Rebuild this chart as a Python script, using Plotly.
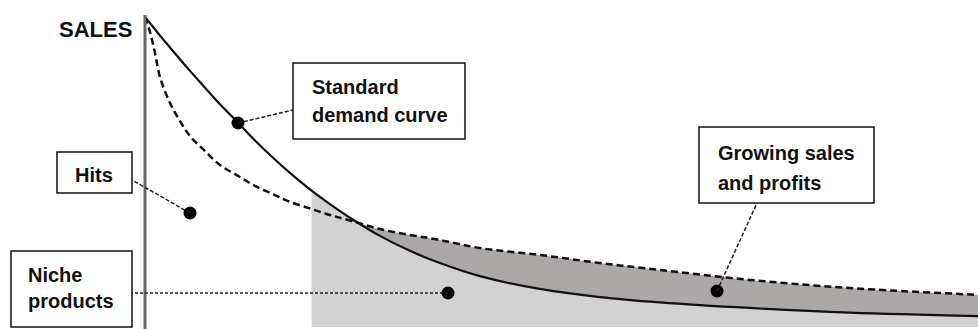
import plotly.graph_objects as go

# ---- data (product rank 0..100, sales 0..100) ----
rank = [0, 0.6, 1.2, 1.8, 3.0, 4.2, 5.4, 7.2, 9.0, 11.2, 13.2, 15.6, 17.4, 20.0,
        22.2, 24.8, 28.2, 31.8, 35.4, 40.2, 47.4, 54.6, 61.8, 72.6, 84.6, 100]
standard_sales = [99.4, 97.4, 95.4, 93.4, 89.6, 85.8, 82.1, 76.7, 71.4, 65.4, 59.8,
                  53.7, 49.4, 43.7, 39.4, 34.7, 29.2, 24.4, 20.5, 16.3, 12.2, 9.6,
                  7.9, 6.1, 4.6, 3.5]
longtail_sales = [99.4, 94.6, 87.8, 80.1, 71.8, 66.0, 61.2, 56.4, 51.9, 48.4, 45.2,
                  42.3, 40.1, 37.8, 35.9, 34.0, 31.4, 29.5, 27.9, 25.3, 23.1, 20.5,
                  18.3, 15.1, 12.5, 10.3]
niche_start_rank = 20.0
crossing_rank = 24.8

# ---- page geometry (pixels) ----
W, H = 978, 329
AX_PX = 145.0       # x pixel of rank 0
PX_PER_RANK = 8.33
BASE_PY = 327.0     # y pixel of sales 0
PX_PER_SALE = 3.12


def px2x(px):
    return (px - AX_PX) / PX_PER_RANK


def py2y(py):
    return (BASE_PY - py) / PX_PER_SALE


x_range = [px2x(0), px2x(W)]
y_range = [py2y(H), py2y(0)]

LIGHT = "#d3d2d3"
DARK = "#aca8a8"
LABEL_FONT = "Liberation Sans, Arial, sans-serif"

fig = go.Figure()

# light grey: niche area under the standard curve
i0 = rank.index(niche_start_rank)
fig.add_trace(go.Scatter(x=rank[i0:], y=standard_sales[i0:], mode="lines",
                         line=dict(width=0, shape="spline", color=LIGHT),
                         fill="tozeroy", fillcolor=LIGHT, hoverinfo="skip"))

# dark grey: between curves after crossing
i1 = rank.index(crossing_rank)
fig.add_trace(go.Scatter(x=rank[i1:], y=standard_sales[i1:], mode="lines",
                         line=dict(width=0, shape="spline", color=DARK),
                         hoverinfo="skip"))
fig.add_trace(go.Scatter(x=rank[i1:], y=longtail_sales[i1:], mode="lines",
                         line=dict(width=0, shape="spline", color=DARK),
                         fill="tonexty", fillcolor=DARK, hoverinfo="skip"))

# curves
fig.add_trace(go.Scatter(x=rank, y=longtail_sales, mode="lines",
                         line=dict(color="#111111", width=2.5, dash="7px,4px", shape="spline"),
                         hoverinfo="skip"))
fig.add_trace(go.Scatter(x=rank, y=standard_sales, mode="lines",
                         line=dict(color="#111111", width=2.2, shape="spline"),
                         hoverinfo="skip"))

# vertical sales axis
fig.add_shape(type="line", x0=0, x1=0, y0=y_range[0], y1=py2y(15),
              line=dict(color="#666666", width=3), layer="above")

# label boxes (pixels: x0, y0, x1, y1)
boxes = {
    "standard": (293, 63, 465, 139),
    "hits": (57, 152, 132, 193),
    "niche": (11, 251, 132, 327),
    "growing": (699, 127, 874, 203),
}
for (x0, y0, x1, y1) in boxes.values():
    fig.add_shape(type="rect", x0=px2x(x0), x1=px2x(x1), y0=py2y(y0), y1=py2y(y1),
                  line=dict(color="#111111", width=1.5), fillcolor="white", layer="above")

# leader lines (pixels) and dots
leaders = [
    ((238, 123), (293, 110), "4px,2px"),
    ((190, 213), (132, 180), "4px,2px"),
    ((448, 293), (132, 293), "3px,2px"),
    ((717, 291), (757, 203), "4px,2px"),
]
for (a, b, d) in leaders:
    fig.add_shape(type="line", x0=px2x(a[0]), y0=py2y(a[1]), x1=px2x(b[0]), y1=py2y(b[1]),
                  line=dict(color="#222222", width=1.5, dash=d), layer="above")

fig.add_trace(go.Scatter(x=[px2x(a[0]) for a, _, _ in leaders],
                         y=[py2y(a[1]) for a, _, _ in leaders],
                         mode="markers", marker=dict(color="black", size=13),
                         hoverinfo="skip"))

# texts: (text, x px, y-center px, anchor)
texts = [
    ("Standard", 311, 87, "left"),
    ("demand curve", 311, 115, "left"),
    ("Hits", 94, 175, "center"),
    ("Niche", 27, 275, "left"),
    ("products", 27, 301, "left"),
    ("Growing sales", 717, 153, "left"),
    ("and profits", 717, 183, "left"),
]
for t, x, y, anc in texts:
    fig.add_annotation(x=px2x(x), y=py2y(y), text="<b>%s</b>" % t, showarrow=False,
                       xanchor=anc, yanchor="middle", borderpad=0,
                       font=dict(family=LABEL_FONT, size=20, color="#111111"))

fig.add_annotation(x=px2x(133), y=py2y(29), text="<b>SALES</b>", showarrow=False,
                   xanchor="right", yanchor="middle", borderpad=0,
                   font=dict(family="Liberation Sans, Arial, sans-serif", size=22, color="#111111"))

fig.update_layout(width=W, height=H, margin=dict(l=0, r=0, t=0, b=0),
                  paper_bgcolor="white", plot_bgcolor="white", showlegend=False,
                  xaxis=dict(range=x_range, visible=False, fixedrange=True),
                  yaxis=dict(range=y_range, visible=False, fixedrange=True))

fig.write_html("out.html", config={"displayModeBar": False},
               post_script="document.body.style.margin='0';document.body.style.overflow='hidden';")
